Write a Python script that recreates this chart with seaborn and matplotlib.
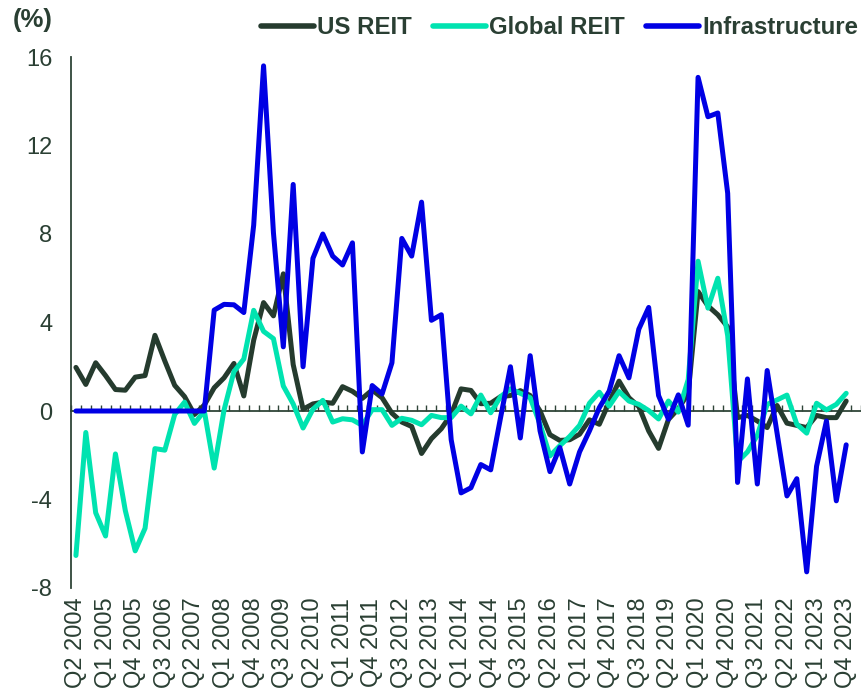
import numpy as np
import pandas as pd
import matplotlib
matplotlib.use('Agg')
import matplotlib.pyplot as plt
import seaborn as sns

# quarterly, Q2 2004 .. Q4 2023
quarters = [f"Q{q} {y}" for y in range(2004, 2024) for q in range(1, 5)][1:]

us_reit = [1.97, 1.2, 2.18, 1.6, 0.97, 0.94, 1.53, 1.6, 3.42, 2.26,
           1.16, 0.65, -0.16, 0.27, 1.05, 1.5, 2.15, 0.68, 3.2, 4.9,
           4.3, 6.2, 2.1, 0.08, 0.32, 0.4, 0.35, 1.1, 0.89, 0.57,
           0.95, 0.6, -0.1, -0.5, -0.7, -1.92, -1.25, -0.8, -0.15, 1.0,
           0.93, 0.33, 0.35, 0.65, 0.7, 0.92, 0.7, 0.0, -1.07, -1.33,
           -1.3, -1.05, -0.4, -0.6, 0.4, 1.35, 0.6, 0.2, -0.9, -1.69,
           -0.38, 0.1, 0.8, 5.4, 4.75, 4.35, 3.8, -0.3, -0.2, -0.45,
           -0.75, 0.25, -0.55, -0.65, -0.75, -0.2, -0.3, -0.3, 0.45]

global_reit = [-6.53, -0.97, -4.6, -5.65, -1.94, -4.5, -6.32, -5.3, -1.7, -1.77,
               -0.16, 0.4, -0.56, 0.0, -2.58, 0.05, 1.78, 2.35, 4.55, 3.6,
               3.27, 1.13, 0.32, -0.77, 0.08, 0.48, -0.5, -0.35, -0.4, -0.65,
               0.06, 0.06, -0.65, -0.33, -0.42, -0.62, -0.2, -0.3, -0.3, 0.22,
               -0.13, 0.72, -0.08, 0.65, 1.0, 0.8, 0.6, -0.6, -2.03, -1.57,
               -1.15, -0.65, 0.35, 0.85, 0.22, 0.88, 0.45, 0.3, 0.02, -0.36,
               0.45, -0.05, 1.42, 6.77, 4.65, 6.0, 3.4, -2.3, -1.85, -1.1,
               0.3, 0.5, 0.72, -0.6, -1.0, 0.35, 0.05, 0.3, 0.8]

infrastructure = [0, 0, 0, 0, 0, 0, 0, 0, 0, 0,
                  0, 0, 0, 0, 4.56, 4.82, 4.8, 4.45, 8.4, 15.6,
                  8.06, 2.9, 10.24, 2.0, 6.9, 8.0, 7.0, 6.6, 7.6, -1.85,
                  1.15, 0.77, 2.18, 7.8, 7.0, 9.44, 4.1, 4.35, -1.3, -3.7,
                  -3.47, -2.42, -2.66, -0.3, 2.0, -1.22, 2.5, -0.9, -2.74, -1.65,
                  -3.3, -1.85, -0.9, 0.15, 0.9, 2.5, 1.5, 3.7, 4.68, 0.7,
                  -0.37, 0.73, -0.64, 15.08, 13.3, 13.47, 9.84, -3.23, 1.45, -3.3,
                  1.83, -1.0, -3.84, -3.06, -7.27, -2.5, -0.45, -4.06, -1.53]

y_ticks = [-8, -4, 0, 4, 8, 12, 16]

colors = {'US REIT': '#253B2E', 'Global REIT': '#00E3B0', 'Infrastructure': '#0000E4'}
text_color = '#2A3F33'
axis_color = '#2F4538'

df = pd.DataFrame({'quarter': quarters, 'US REIT': us_reit,
                   'Global REIT': global_reit, 'Infrastructure': infrastructure})
df['pos'] = np.arange(len(df))
long_df = df.melt(id_vars=['quarter', 'pos'], var_name='series', value_name='value')

sns.set_theme(style='white')
plt.rcParams['font.family'] = ['Liberation Sans', 'DejaVu Sans']
plt.rcParams['axes.unicode_minus'] = False

fig = plt.figure(figsize=(8.62, 6.97), dpi=100)
ax = fig.add_axes([71 / 862, 1 - 588 / 697, 790 / 862, 531 / 697])

sns.lineplot(data=long_df, x='pos', y='value', hue='series', palette=colors,
             linewidth=3.6, estimator=None, sort=False, ax=ax,
             solid_joinstyle='round', solid_capstyle='round')

n_cat = len(quarters) + 1  # axis keeps one empty slot at the end
ax.set_xlim(-0.5, n_cat - 0.5)
ax.set_ylim(y_ticks[0], y_ticks[-1])
ax.set_yticks(y_ticks)
ax.set_xticks(df['pos'][::3])
ax.set_xticklabels(quarters[::3], rotation=90)
ax.set_xlabel('')
ax.set_ylabel('')

for s in ['top', 'right', 'bottom']:
    ax.spines[s].set_visible(False)
ax.spines['left'].set_color(axis_color)
ax.spines['left'].set_linewidth(1.3)

ax.tick_params(axis='x', length=0, pad=7, labelsize=17, labelcolor=text_color)
ax.tick_params(axis='y', direction='in', length=4.5, width=1.3, pad=13.5,
               labelsize=17, color=axis_color, labelcolor=text_color)

# zero line with category tick marks
zero_loc = (0 - y_ticks[0]) / (y_ticks[-1] - y_ticks[0])
sec = ax.secondary_xaxis(zero_loc)
sec.set_xticks(np.arange(n_cat + 1) - 0.5)
sec.tick_params(direction='in', length=4.5, width=1.0, color=axis_color,
                labelbottom=False, labeltop=False)
for sp in sec.spines.values():
    sp.set_color(axis_color)
    sp.set_linewidth(1.3)

handles, labels = ax.get_legend_handles_labels()
leg = ax.legend(handles, labels, ncol=3, frameon=False, loc='center right',
                bbox_to_anchor=(858 / 862, 1 - 28 / 697), bbox_transform=fig.transFigure,
                handlelength=2.2, handletextpad=0.12, columnspacing=0.9,
                borderpad=0, borderaxespad=0,
                prop={'weight': 'bold', 'size': 17.3}, labelcolor=text_color)
for line in leg.get_lines():
    line.set_linewidth(4)

fig.text(13 / 862, 1 - 20 / 697, '(%)', fontsize=18.5, fontweight='bold',
         ha='left', va='center', color=text_color)

fig.savefig('out.png', dpi=100)
